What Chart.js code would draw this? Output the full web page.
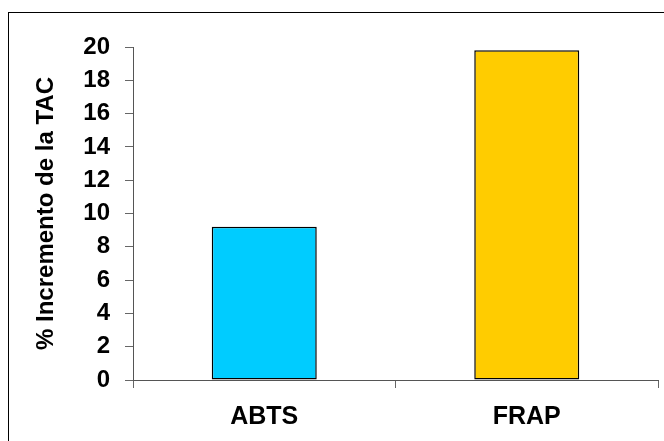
<!DOCTYPE html>
<html><head><meta charset="utf-8">
<script src="https://cdn.jsdelivr.net/npm/chart.js@4"></script>
<style>html,body{margin:0;padding:0;background:#fff}#wrap{width:664px;height:441px;position:relative}</style>
</head><body><div id="wrap"><canvas id="c"></canvas></div>
<script>
const categories = ["ABTS", "FRAP"];
const values = [9.2, 19.8];
const barColors = ["#00CCFF", "#FFCC00"];
const yTitle = "% Incremento de la TAC";
const yMin = 0, yMax = 20, yStep = 2;

const frame = {
  id: 'frame',
  afterDraw(chart) {
    const ctx = chart.ctx;
    ctx.save();
    ctx.strokeStyle = '#000';
    ctx.lineWidth = 1;
    ctx.strokeRect(8.5, 12.5, 800, 600);
    ctx.restore();
  }
};

new Chart(document.getElementById('c'), {
  type: 'bar',
  data: {
    labels: categories,
    datasets: [{
      data: values,
      backgroundColor: barColors,
      borderColor: '#000',
      borderWidth: 1.5,
      borderSkipped: false,
      categoryPercentage: 1,
      barPercentage: 0.4
    }]
  },
  options: {
    responsive: true,
    maintainAspectRatio: false,
    animation: false,
    layout: { padding: { left: 0, top: 47, right: 6, bottom: 0 } },
    plugins: { legend: { display: false }, tooltip: { enabled: false } },
    scales: {
      x: {
        grid: { display: true, drawOnChartArea: false, drawTicks: true, tickLength: 8, color: '#666', offset: true },
        border: { display: true, color: '#555', width: 1 },
        ticks: { color: '#000', font: { family: 'Arial, "Liberation Sans"', size: 25, weight: 'bold' }, padding: 14 },
        afterFit(s) { s.height = 61; }
      },
      y: {
        min: yMin, max: yMax,
        grid: { display: true, drawOnChartArea: false, drawTicks: true, tickLength: 8, color: '#666' },
        border: { display: true, color: '#555', width: 1 },
        ticks: { stepSize: yStep, color: '#000', font: { family: 'Arial, "Liberation Sans"', size: 24, weight: 'bold' }, padding: 15 },
        title: { display: true, text: yTitle, color: '#000', font: { family: 'Arial, "Liberation Sans"', size: 24, weight: 'bold' }, padding: { top: 32, bottom: 0 } },
        afterFit(s) { s.width = 133; }
      }
    }
  },
  plugins: [frame]
});
</script></body></html>
